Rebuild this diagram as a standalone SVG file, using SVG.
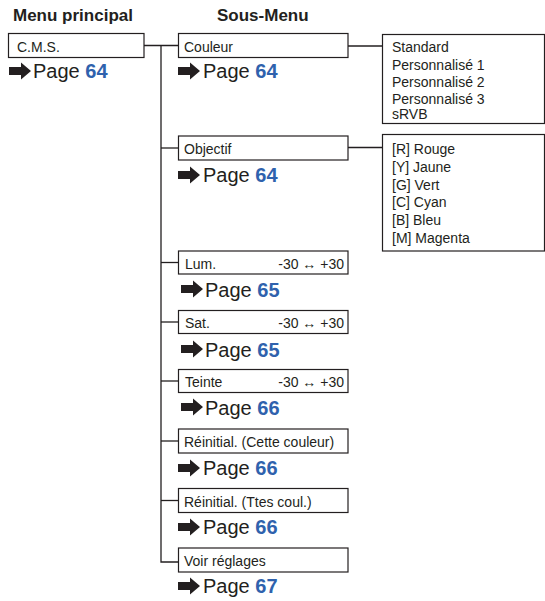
<svg xmlns="http://www.w3.org/2000/svg" xmlns:xlink="http://www.w3.org/1999/xlink" width="545" height="601" viewBox="0 0 545 601">
<style>
.box{fill:#fff;stroke:#231f20;stroke-width:1.2}
.ln{fill:none;stroke:#231f20;stroke-width:1.3}
.hd{font-family:"Liberation Sans",Arial,sans-serif;font-weight:bold;font-size:17px;fill:#231f20}
.t{font-family:"Liberation Sans",Arial,sans-serif;font-size:14px;fill:#231f20}
.pg{font-family:"Liberation Sans",Arial,sans-serif;font-size:20px;fill:#231f20}
.num{font-weight:bold;fill:#2f62ad}
.ar{fill:#231f20}
</style>
<defs>
<path id="arr" class="ar" d="M0,-4 H12 V-8.5 L22,0 L12,8.5 V4 H0 Z"/>
</defs>
<rect width="545" height="601" fill="#fff"/>
<text class="hd" x="13" y="21">Menu principal</text>
<text class="hd" x="217" y="21">Sous-Menu</text>
<g id="connectors">
<path class="ln" d="M144,45.5 H178"/>
<path class="ln" d="M161,45.5 V562 H178"/>
<path class="ln" d="M161,148 H178"/>
<path class="ln" d="M161,262.5 H178"/>
<path class="ln" d="M161,322 H178"/>
<path class="ln" d="M161,381 H178"/>
<path class="ln" d="M161,441 H178"/>
<path class="ln" d="M161,500.5 H178"/>
<path class="ln" d="M348,46 H382.5"/>
<path class="ln" d="M348,147.5 H382.5"/>
</g>
<g id="cms">
<rect class="box" x="8.5" y="33.5" width="135.5" height="24"/>
<text class="t" x="17" y="51.5">C.M.S.</text>
<use xlink:href="#arr" x="9" y="71"/>
<text class="pg" x="33" y="78">Page <tspan class="num">64</tspan></text>
</g>
<g id="couleur">
<rect class="box" x="178.5" y="33.5" width="169.5" height="24"/>
<text class="t" x="184" y="51.5">Couleur</text>
<use xlink:href="#arr" x="178" y="71"/>
<text class="pg" x="203" y="78">Page <tspan class="num">64</tspan></text>
</g>
<g id="couleur-list">
<rect class="box" x="382.5" y="34.5" width="162" height="89"/>
<text class="t" x="392" y="52">Standard</text>
<text class="t" x="392" y="69.5">Personnalisé 1</text>
<text class="t" x="392" y="86.5">Personnalisé 2</text>
<text class="t" x="392" y="104">Personnalisé 3</text>
<text class="t" x="392" y="118.5">sRVB</text>
</g>
<g id="objectif">
<rect class="box" x="178.5" y="136" width="169.5" height="24"/>
<text class="t" x="184" y="154">Objectif</text>
<use xlink:href="#arr" x="178" y="175"/>
<text class="pg" x="203" y="182">Page <tspan class="num">64</tspan></text>
</g>
<g id="objectif-list">
<rect class="box" x="382.5" y="134.5" width="162" height="116.5"/>
<text class="t" x="392" y="153.5">[R] Rouge</text>
<text class="t" x="392" y="171.5">[Y] Jaune</text>
<text class="t" x="392" y="189.5">[G] Vert</text>
<text class="t" x="392" y="207">[C] Cyan</text>
<text class="t" x="392" y="225">[B] Bleu</text>
<text class="t" x="392" y="243">[M] Magenta</text>
</g>
<g id="lum">
<rect class="box" x="178.5" y="251" width="169.5" height="23"/>
<text class="t" x="185" y="268.5">Lum.</text>
<text class="t" x="344" y="268.5" text-anchor="end">-30 ↔ +30</text>
<use xlink:href="#arr" x="181" y="289"/>
<text class="pg" x="205" y="297">Page <tspan class="num">65</tspan></text>
</g>
<g id="sat">
<rect class="box" x="178.5" y="310.5" width="169.5" height="23"/>
<text class="t" x="185" y="328">Sat.</text>
<text class="t" x="344" y="328" text-anchor="end">-30 ↔ +30</text>
<use xlink:href="#arr" x="181" y="349"/>
<text class="pg" x="205" y="357">Page <tspan class="num">65</tspan></text>
</g>
<g id="teinte">
<rect class="box" x="178.5" y="369.5" width="169.5" height="23"/>
<text class="t" x="185" y="387">Teinte</text>
<text class="t" x="344" y="387" text-anchor="end">-30 ↔ +30</text>
<use xlink:href="#arr" x="181" y="407"/>
<text class="pg" x="205" y="415">Page <tspan class="num">66</tspan></text>
</g>
<g id="reinit-couleur">
<rect class="box" x="178.5" y="429" width="169.5" height="24"/>
<text class="t" x="184" y="447">Réinitial. (Cette couleur)</text>
<use xlink:href="#arr" x="178" y="468"/>
<text class="pg" x="203" y="475">Page <tspan class="num">66</tspan></text>
</g>
<g id="reinit-toutes">
<rect class="box" x="178.5" y="488.5" width="169.5" height="24"/>
<text class="t" x="184" y="506.5">Réinitial. (Ttes coul.)</text>
<use xlink:href="#arr" x="178" y="527"/>
<text class="pg" x="203" y="534">Page <tspan class="num">66</tspan></text>
</g>
<g id="voir">
<rect class="box" x="178.5" y="548" width="169.5" height="24"/>
<text class="t" x="184" y="566">Voir réglages</text>
<use xlink:href="#arr" x="178" y="586"/>
<text class="pg" x="203" y="593">Page <tspan class="num">67</tspan></text>
</g>
</svg>
